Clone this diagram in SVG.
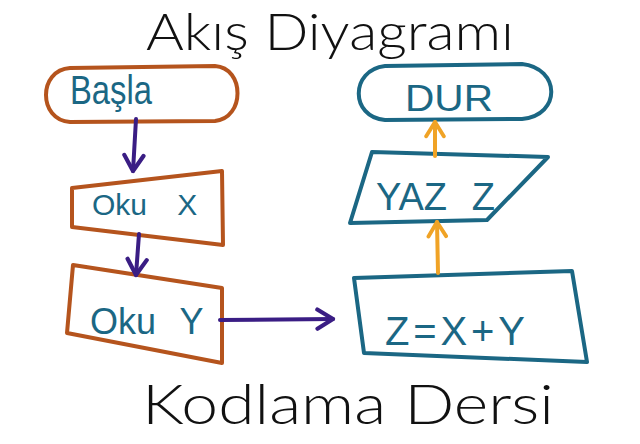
<svg xmlns="http://www.w3.org/2000/svg" width="640" height="444" viewBox="0 0 640 444">
<defs>
<style>
.bo{fill:none;stroke:#b5541d;stroke-width:4;stroke-linejoin:round;stroke-linecap:round}
.bt{fill:none;stroke:#1b6784;stroke-width:4;stroke-linejoin:round;stroke-linecap:round}
.lbl{font-family:"Liberation Sans",Arial,sans-serif;fill:#1b6784;font-weight:normal}
.hw{font-family:Lato,"Open Sans",sans-serif;fill:#111;font-weight:300}
.ap{fill:none;stroke:#3a1d84;stroke-width:4;stroke-linecap:round}
.ay{fill:none;stroke:#f0a326;stroke-width:4;stroke-linecap:round}
</style>
<marker id="mp" viewBox="0 0 20 20" refX="16" refY="10" markerWidth="24" markerHeight="24" markerUnits="userSpaceOnUse" orient="auto">
<path d="M3,2 L16,10 L3,18" fill="none" stroke="#3a1d84" stroke-width="3.5" stroke-linecap="round" stroke-linejoin="round"/>
</marker>
<marker id="my" viewBox="0 0 20 20" refX="16" refY="10" markerWidth="22" markerHeight="22" markerUnits="userSpaceOnUse" orient="auto">
<path d="M3,2 L16,10 L3,18" fill="none" stroke="#f0a326" stroke-width="3.5" stroke-linecap="round" stroke-linejoin="round"/>
</marker>
</defs>
<rect width="640" height="444" fill="#fff"/>

<text class="hw" x="146" y="50" font-size="52" textLength="368" lengthAdjust="spacingAndGlyphs">Akış Diyagramı</text>

<g id="basla">
<path class="bo" d="M70,68 L215,66 C245,68 245,118 215,121 L70,122 C38,120 38,70 70,68 Z"/>
<text class="lbl" x="70" y="104" font-size="40" textLength="82" lengthAdjust="spacingAndGlyphs">Başla</text>
</g>

<g id="okux">
<path class="bo" d="M72,188 L222,171 L223,245 L72,227 Z"/>
<text class="lbl" x="92" y="215" font-size="30" word-spacing="22">Oku X</text>
</g>

<g id="okuy">
<path class="bo" d="M73,265 L222,288 L222,363 L67,333 Z"/>
<text class="lbl" x="90" y="334" font-size="36" word-spacing="14">Oku Y</text>
</g>

<g id="zxy">
<path class="bt" d="M354,278 L572,271 L587,362 L364,353 Z"/>
<text class="lbl" x="385" y="345" font-size="40" textLength="140" lengthAdjust="spacing">Z=X+Y</text>
</g>

<g id="yazz">
<path class="bt" d="M372,152 L548,157 L487,220 L350,223 Z"/>
<text class="lbl" x="376" y="210" font-size="38" word-spacing="14">YAZ Z</text>
</g>

<g id="dur">
<path class="bt" d="M385,66 L522,64 C560,68 562,115 522,119 L385,120 C350,117 350,70 385,66 Z"/>
<text class="lbl" x="405" y="111" font-size="36" textLength="88" lengthAdjust="spacingAndGlyphs">DUR</text>
</g>

<g id="connectors">
<path class="ap" d="M136,119 L133,171" marker-end="url(#mp)"/>
<path class="ap" d="M139,234 L136,275" marker-end="url(#mp)"/>
<path class="ap" d="M220,320 L333,319" marker-end="url(#mp)"/>
<path class="ay" d="M438,273 L437,222" marker-end="url(#my)"/>
<path class="ay" d="M435,156 L435,122" marker-end="url(#my)"/>
</g>

<text class="hw" x="142" y="424" font-size="56" textLength="412" lengthAdjust="spacingAndGlyphs">Kodlama Dersi</text>
</svg>
